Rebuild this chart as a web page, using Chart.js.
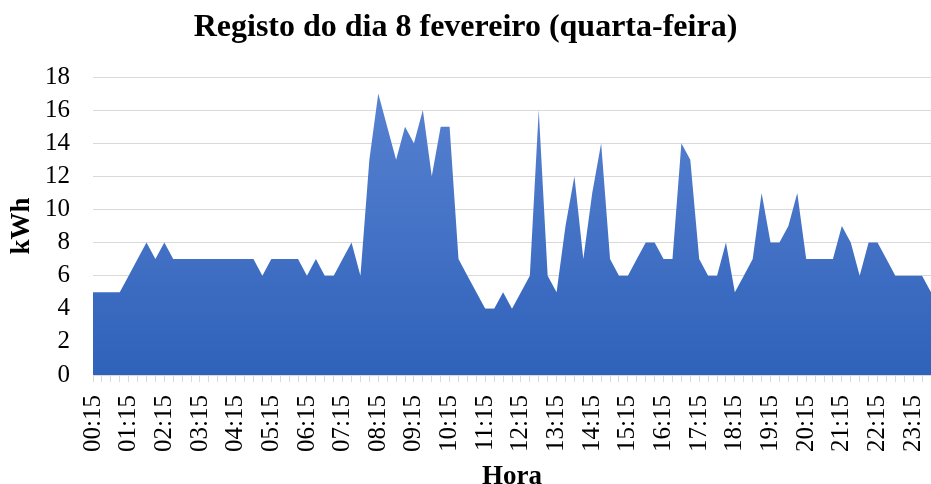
<!DOCTYPE html>
<html>
<head>
<meta charset="utf-8">
<script src="https://cdn.jsdelivr.net/npm/chart.js@4"></script>
<style>
  html, body { margin: 0; padding: 0; background: #fff; }
  #wrap { width: 931px; height: 484px; }
</style>
</head>
<body>
<div id="wrap"><canvas id="chart"></canvas></div>
<script>
// 15-minute readings, 00:15 .. 23:45
const hours = [];
for (let m = 15; m < 24 * 60; m += 15) {
    hours.push(String(Math.floor(m / 60)).padStart(2, '0') + ':' + String(m % 60).padStart(2, '0'));
}

const kwh = [
    5, 5, 5, 5, 6, 7, 8, 7, 8,
    7, 7, 7, 7, 7, 7, 7, 7, 7, 7,
    6, 7, 7, 7, 7, 6, 7, 6, 6,
    7, 8, 6, 13, 17, 15, 13, 15, 14, 16, 12, 15, 15,
    7, 6, 5, 4, 4, 5, 4, 5, 6,
    16, 6, 5, 9, 12, 7, 11, 14,
    7, 6, 6, 7, 8, 8,
    7, 7, 14, 13, 7, 6, 6, 8, 5,
    6, 7, 11, 8, 8, 9, 11,
    7, 7, 7, 7, 9, 8, 6,
    8, 8, 7, 6, 6, 6, 6, 5
];

const yMax = 18;
const yStep = 2;

const serif = "'Liberation Serif', 'Times New Roman', serif";

document.addEventListener('DOMContentLoaded', function() {
    const ctx = document.getElementById('chart');
    new Chart(ctx, {
        type: 'line',
        data: {
            labels: hours,
            datasets: [{
                label: 'kWh',
                data: kwh,
                fill: 'origin',
                tension: 0,
                pointRadius: 0,
                borderWidth: 0,
                borderColor: 'rgba(0,0,0,0)',
                backgroundColor: function(context) {
                    const area = context.chart.chartArea;
                    if (!area) return '#4472C4';
                    const g = context.chart.ctx.createLinearGradient(0, area.top, 0, area.bottom);
                    g.addColorStop(0, '#5A83D2');
                    g.addColorStop(1, '#2F62BA');
                    return g;
                }
            }]
        },
        options: {
            responsive: true,
            maintainAspectRatio: false,
            animation: false,
            layout: { padding: 0 },
            plugins: {
                legend: { display: false },
                tooltip: { enabled: false },
                title: {
                    display: true,
                    text: 'Registo do dia 8 fevereiro (quarta-feira)',
                    color: '#000',
                    font: { family: serif, size: 32, weight: 'bold' },
                    padding: { top: 9, bottom: 29.6 }
                }
            },
            scales: {
                x: {
                    offset: false,
                    grid: {
                        drawOnChartArea: false,
                        drawTicks: true,
                        tickLength: 7,
                        color: '#D9D9D9'
                    },
                    border: { display: true, color: '#D9D9D9' },
                    ticks: {
                        autoSkip: false,
                        minRotation: 90,
                        maxRotation: 90,
                        padding: 13,
                        color: '#000',
                        font: { family: serif, size: 25 },
                        callback: function(value, index) {
                            return index % 4 === 0 ? hours[index] : '';
                        }
                    },
                    title: {
                        display: true,
                        text: 'Hora',
                        color: '#000',
                        font: { family: serif, size: 27, weight: 'bold', lineHeight: 1 },
                        padding: { top: 0, bottom: -7 }
                    },
                    afterFit: function(scale) {
                        scale.height = 109;
                        scale.paddingLeft = 0;
                        scale.paddingRight = 0;
                    }
                },
                y: {
                    min: 0,
                    max: yMax,
                    grid: {
                        color: '#D9D9D9',
                        drawTicks: false
                    },
                    border: { display: false },
                    ticks: {
                        stepSize: yStep,
                        padding: 23,
                        color: '#000',
                        font: { family: serif, size: 25 }
                    },
                    title: {
                        display: true,
                        text: 'kWh',
                        color: '#000',
                        font: { family: serif, size: 27, weight: 'bold' },
                        padding: { top: 6, bottom: 0 }
                    },
                    afterFit: function(scale) {
                        scale.width = 93;
                    }
                }
            }
        }
    });
});
</script>
</body>
</html>
